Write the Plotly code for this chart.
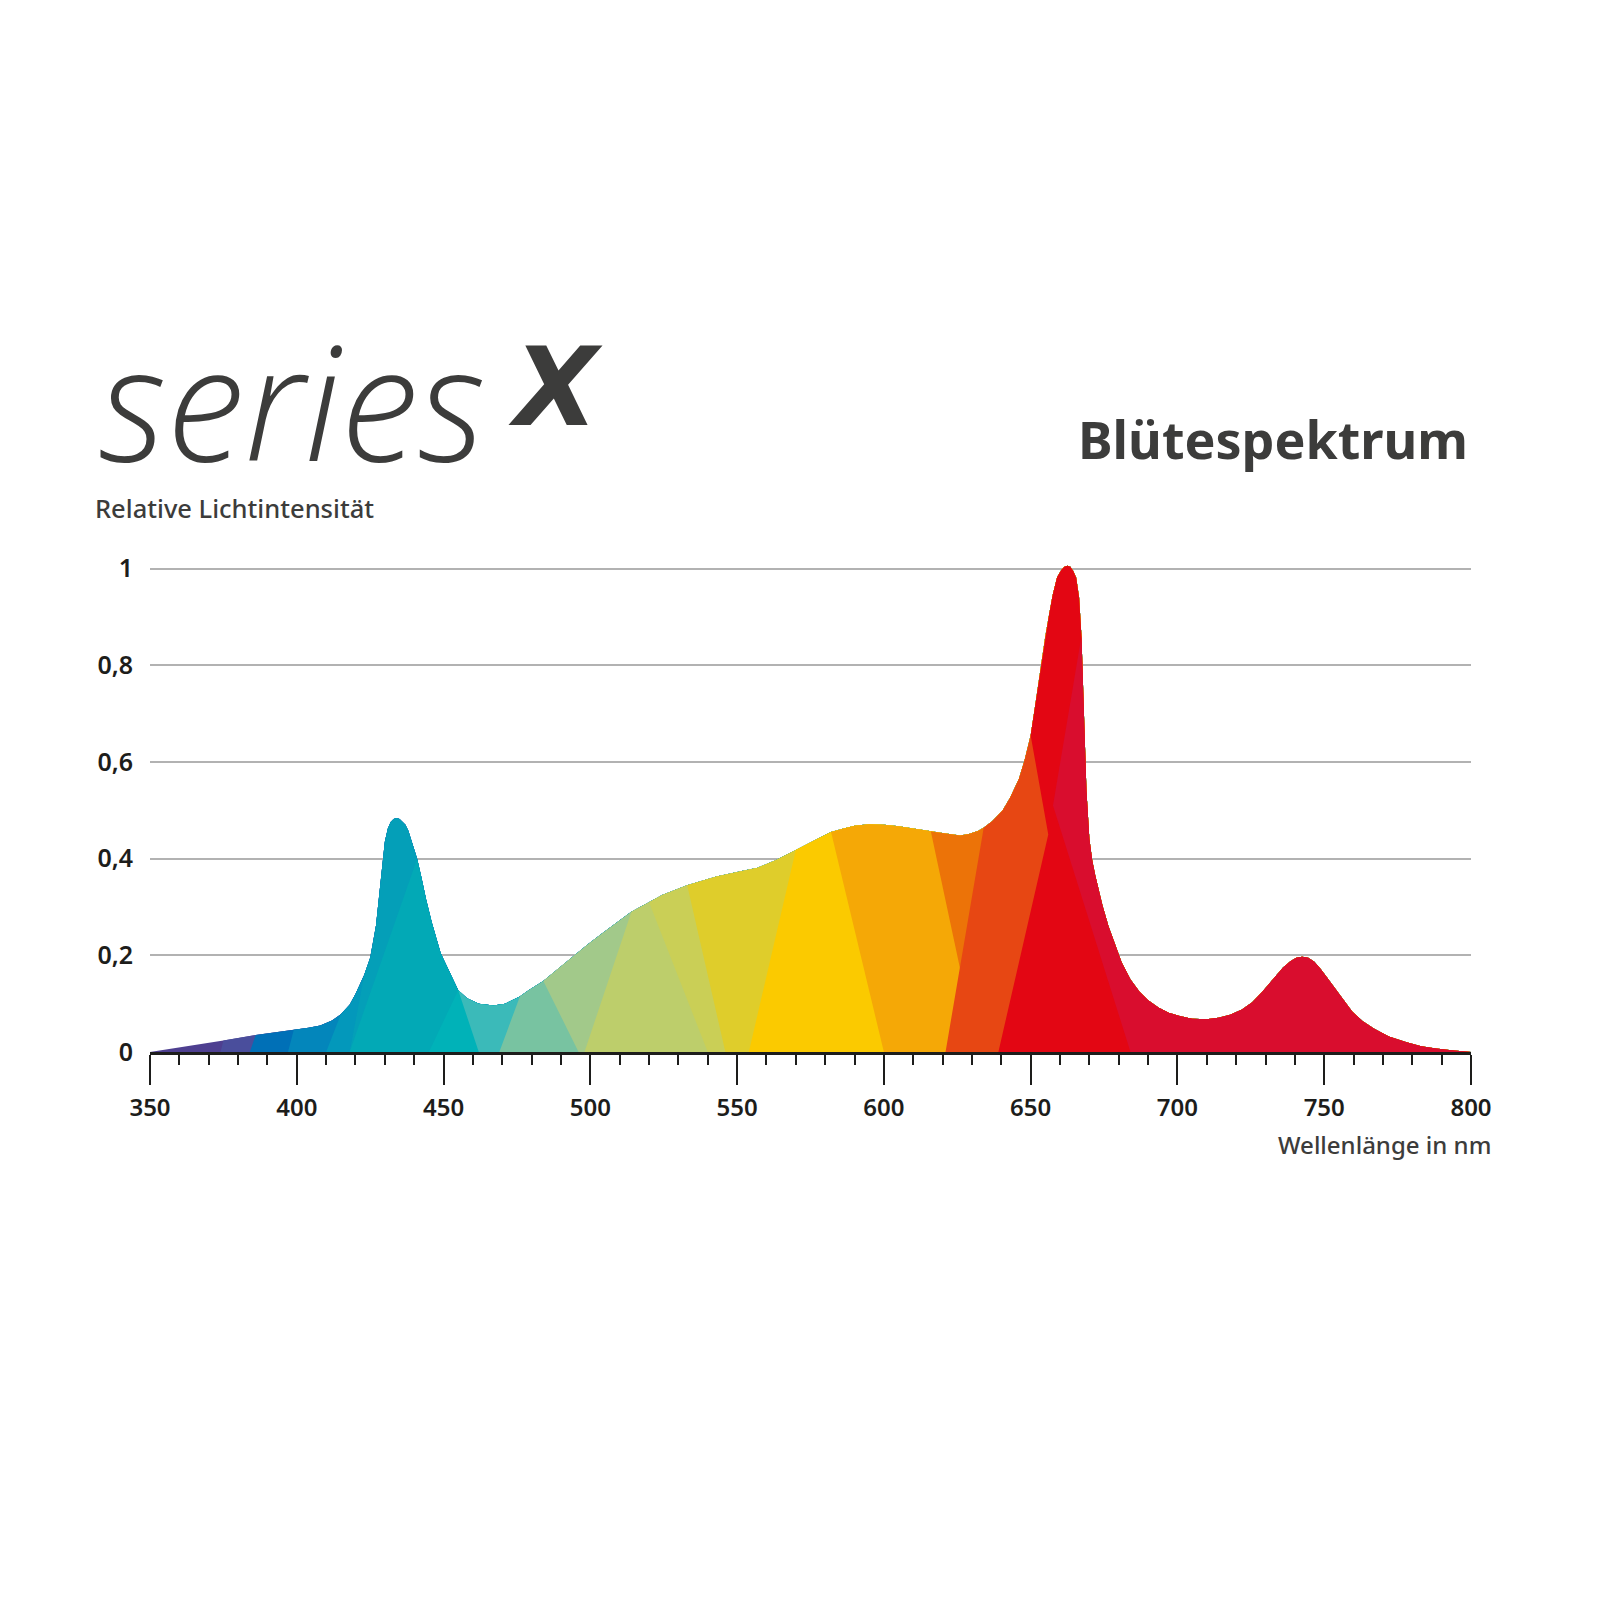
import plotly.graph_objects as go

# Spektrum (Hüllkurve)
WAVELENGTH = [
    350, 362, 375, 386, 399, 404, 408, 412, 415, 418, 420, 423, 425, 426, 427, 428,
    429, 430, 431, 432, 433, 434, 435, 436, 437, 438, 439, 440, 441, 442.5, 444,
    446, 447.5, 449, 451, 453, 455, 458, 462, 467, 471, 476, 479, 484, 489, 494.5,
    499, 504, 509, 514, 520, 524.5, 533, 543, 552, 557, 563.5, 570, 576, 582, 586,
    590, 595, 600, 605, 610, 616, 621, 626, 629, 632, 634, 637, 640.5, 643, 646,
    648, 650, 651.5, 653, 654, 655, 656.3, 657.5, 659, 660.5, 661.5, 662.5, 663.5,
    664.5, 665.5, 666.5, 667.3, 668, 668.5, 669, 670, 671, 672, 673, 674.5, 676.5,
    678.5, 681, 684, 687, 690, 693.5, 697, 701, 705, 710, 714, 718, 722, 725.5,
    729, 733, 736, 738.5, 740.5, 742.5, 744.5, 746.5, 748.5, 750.5, 753, 756,
    759.5, 763, 767, 772, 778, 783, 788, 794, 800,
]
INTENSITY = [
    0, 0.011, 0.024, 0.035, 0.046, 0.050, 0.055, 0.065, 0.078, 0.098, 0.120, 0.160,
    0.195, 0.225, 0.262, 0.320, 0.385, 0.435, 0.462, 0.476, 0.482, 0.484, 0.482,
    0.477, 0.470, 0.458, 0.440, 0.420, 0.400, 0.360, 0.317, 0.268, 0.234, 0.205,
    0.179, 0.152, 0.128, 0.111, 0.100, 0.096, 0.100, 0.115, 0.128, 0.147, 0.172,
    0.200, 0.222, 0.245, 0.268, 0.290, 0.310, 0.325, 0.345, 0.363, 0.375, 0.381,
    0.398, 0.418, 0.437, 0.455, 0.462, 0.468, 0.471, 0.470, 0.467, 0.462, 0.456,
    0.452, 0.448, 0.451, 0.457, 0.464, 0.478, 0.500, 0.526, 0.565, 0.605, 0.655,
    0.715, 0.780, 0.820, 0.860, 0.905, 0.945, 0.982, 0.998, 1.004, 1.006, 1.004,
    0.995, 0.981, 0.940, 0.860, 0.725, 0.640, 0.540, 0.440, 0.395, 0.365, 0.340,
    0.302, 0.260, 0.225, 0.185, 0.150, 0.125, 0.107, 0.092, 0.081, 0.074, 0.069,
    0.068, 0.071, 0.077, 0.088, 0.103, 0.125, 0.154, 0.175, 0.188, 0.195, 0.197,
    0.195, 0.187, 0.174, 0.158, 0.138, 0.112, 0.084, 0.064, 0.048, 0.032, 0.020,
    0.012, 0.007, 0.003, 0,
]

# Farbbänder: Kante oben (auf der Kurve), Knick (optional) und unten (Nulllinie)
BAND_TOP = [350, 375, 386, 399, 415, 423, 441, 455, 455, 476, 484, 514, 520, 533,
            570, 582, 616, 634, 650, 667.3]
BAND_FOOT = [350, 374, 384, 397, 410, 418, 418, 445, 462, 469, 496, 498, 540, 546,
             554, 600, 632, 621, 639, 684]
BAND_KNEE_NM = [None] * 18 + [656, 657.6]
BAND_KNEE_VAL = [None] * 18 + [0.45, 0.51]
BAND_COLORS = ['#4e3f90', '#4a4e9c', '#0070b7', '#0386bb', '#0398bb', '#049fb8',
               '#02a9b6', '#00b2b8', '#3bbab9', '#78c3a1', '#a2c98a', '#bdce6b',
               '#cacf56', '#dfcd2b', '#fbca00', '#f5a806', '#ec7308', '#e74713',
               '#e30613', '#d90d2e']

Y_TICKS = [0, 0.2, 0.4, 0.6, 0.8, 1]
Y_TICK_TEXT = ['0', '0,2', '0,4', '0,6', '0,8', '1']

W, H = 1600, 1600
ML, MR, MT, MB = 142, 137, 551, 556
TEXT_DARK = '#3c3c3b'
AXIS_DARK = '#1d1d1b'


def px_x(px):
    return (px - ML) / (W - ML - MR)


def px_y(py):
    return (H - MB - py) / (H - MT - MB)


fig = go.Figure()

# jedes Band deckt alles rechts seiner Kante ab, das nächste wird darübergelegt
for top, foot, knee_nm, knee_val, color in zip(BAND_TOP, BAND_FOOT, BAND_KNEE_NM,
                                               BAND_KNEE_VAL, BAND_COLORS):
    i = WAVELENGTH.index(top)
    xs, ys = [foot], [0]
    if knee_nm is not None:
        xs.append(knee_nm)
        ys.append(knee_val)
    fig.add_trace(go.Scatter(
        x=xs + WAVELENGTH[i:],
        y=ys + INTENSITY[i:],
        mode='lines', fill='toself', fillcolor=color,
        line=dict(width=0, color=color), hoverinfo='skip', showlegend=False,
    ))

fig.update_layout(
    width=W, height=H,
    margin=dict(l=ML, r=MR, t=MT, b=MB),
    plot_bgcolor='white', paper_bgcolor='white',
    showlegend=False,
    xaxis=dict(
        range=[350, 800], tick0=350, dtick=50,
        showgrid=False, zeroline=False,
        showline=True, linecolor=AXIS_DARK, linewidth=3,
        ticks='outside', ticklen=30, tickwidth=2, tickcolor=AXIS_DARK,
        ticklabelstandoff=2,
        minor=dict(dtick=10, tick0=350, ticks='outside', ticklen=10, tickwidth=1.5,
                   tickcolor=AXIS_DARK, showgrid=False),
        tickfont=dict(family='Noto Sans', size=24, color=AXIS_DARK, weight=600),
    ),
    yaxis=dict(
        range=[0, 1.02], tickmode='array', tickvals=Y_TICKS, ticktext=Y_TICK_TEXT,
        showgrid=True, gridcolor='#b2b2b2', gridwidth=2, zeroline=False,
        showline=False, ticks='', ticklabelstandoff=16,
        tickfont=dict(family='Noto Sans', size=25, color=AXIS_DARK, weight=600),
    ),
)

fig.add_annotation(text='series', x=px_x(89), y=px_y(391), xref='paper', yref='paper',
                   xanchor='left', yanchor='middle', showarrow=False,
                   font=dict(family='Open Sans', size=158, color=TEXT_DARK, weight=300,
                             style='italic'))
fig.add_annotation(text='X', x=px_x(547), y=px_y(379), xref='paper', yref='paper',
                   xanchor='center', yanchor='middle', showarrow=False,
                   font=dict(family='DejaVu Sans', size=109, color=TEXT_DARK,
                             weight=700, style='italic'))
fig.add_annotation(text='Blütespektrum', x=px_x(1462), y=px_y(430), xref='paper',
                   yref='paper', xanchor='right', yanchor='middle', showarrow=False,
                   font=dict(family='Noto Sans', size=52, color=TEXT_DARK, weight=700))
fig.add_annotation(text='Relative Lichtintensität', x=px_x(85), y=px_y(500),
                   xref='paper', yref='paper', xanchor='left', yanchor='middle',
                   showarrow=False,
                   font=dict(family='Noto Sans', size=25.5, color=TEXT_DARK, weight=500))
fig.add_annotation(text='Wellenlänge in nm', x=px_x(1485), y=px_y(1136),
                   xref='paper', yref='paper', xanchor='right', yanchor='middle',
                   showarrow=False,
                   font=dict(family='Noto Sans', size=24, color=TEXT_DARK, weight=500))

fig.write_html('out.html')
